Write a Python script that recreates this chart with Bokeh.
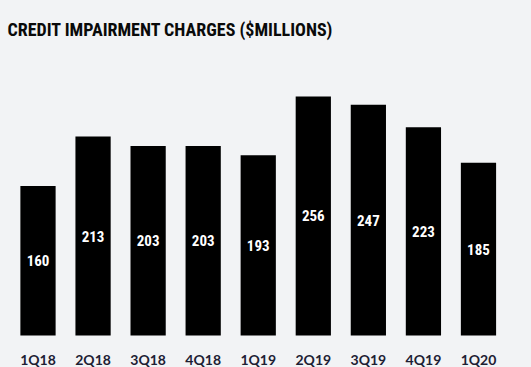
from bokeh.plotting import figure
from bokeh.models import Range1d, Label, ColumnDataSource
from bokeh.core.properties import value
from bokeh.embed import file_html
from bokeh.resources import INLINE

categories = ["1Q18", "2Q18", "3Q18", "4Q18", "1Q19", "2Q19", "3Q19", "4Q19", "1Q20"]
values = [160, 213, 203, 203, 193, 256, 247, 223, 185]
title_text = "CREDIT IMPAIRMENT CHARGES ($MILLIONS)"

BG = "#f2f3f5"
COND = "Roboto Condensed"

W, H = 531, 367
pitch = 55.06
left_px = 37.5       # first bar centre from left edge
px_per_unit = 0.934
base_px = 335        # bar baseline from top

x_start = -left_px / pitch
x_end = (W - left_px) / pitch
y_end = base_px / px_per_unit
y_start = -(H - base_px) / px_per_unit

idx = list(range(len(categories)))
src = ColumnDataSource(dict(
    x=idx,
    top=values,
    mid=[v / 2 for v in values],
    lbl=[str(v) for v in values],
    cat=categories,
    cat_y=[y_end - 358.5 / px_per_unit] * len(categories),
))

p = figure(width=W, height=H, output_backend="svg", toolbar_location=None,
           x_range=Range1d(x_start, x_end), y_range=Range1d(y_start, y_end),
           x_axis_location=None, y_axis_location=None, min_border=0)
p.background_fill_color = BG
p.border_fill_color = BG
p.outline_line_color = None
p.grid.visible = False

p.vbar(x="x", top="top", bottom=0, width=0.64, source=src,
       fill_color="#000000", line_color=None)

p.text(x="x", y="mid", text="lbl", source=src, text_color="#ffffff",
       text_font=value(COND), text_font_style="bold", text_font_size="15px",
       text_align="center", text_baseline="middle")

p.text(x="x", y="cat_y", text="cat", source=src, text_color="#1d2033",
       text_font=value("Lato"), text_font_style="bold", text_font_size="14px",
       text_align="center", text_baseline="alphabetic")

title = Label(x=x_start, y=y_end - 28.5 / px_per_unit, x_offset=7,
              text=title_text, text_font=COND, text_font_style="bold",
              text_font_size="18px", text_color="#0a0a0a",
              text_align="left", text_baseline="alphabetic")
p.add_layout(title)

html = file_html(p, INLINE)
html = html.replace("<head>", "<head><style>body{background:%s;}</style>" % BG, 1)
open("out.html", "w").write(html)
